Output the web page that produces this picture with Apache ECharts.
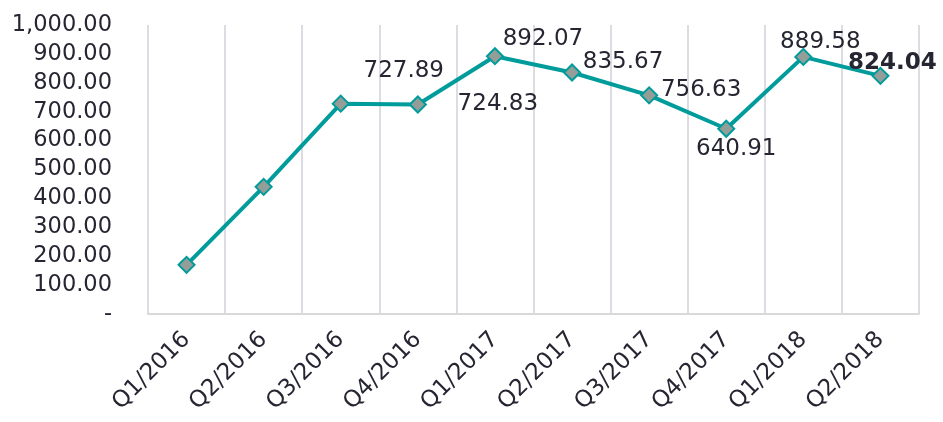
<!DOCTYPE html>
<html>
<head>
<meta charset="utf-8">
<script src="https://cdn.jsdelivr.net/npm/echarts@6/dist/echarts.min.js"></script>
<style>
  html, body { margin: 0; padding: 0; background: #fff; }
  #chart { width: 943px; height: 422px; }
</style>
</head>
<body>
<div id="chart"></div>
<script>
// categories and values
var quarters = ['Q1/2016', 'Q2/2016', 'Q3/2016', 'Q4/2016', 'Q1/2017', 'Q2/2017', 'Q3/2017', 'Q4/2017', 'Q1/2018', 'Q2/2018']
var values = [170, 440, 727.89, 724.83, 892.07, 835.67, 756.63, 640.91, 889.58, 824.04]
// which points carry a value label (first two have none)
var showLabel = [false, false, true, true, true, true, true, true, true, true]

// label offsets around each point, in px
var labelOffsets = [[0, 0], [0, 0], [63, -33], [80, 0], [48, -17], [51, -10], [52, -5], [10, 20], [17, -15], [12, -13]]

var font = 'DejaVu Sans'
var textColor = '#262633'

function fmt(v) {
  if (v === 0) return '-'
  return v.toLocaleString('en-US', { minimumFractionDigits: 2, maximumFractionDigits: 2 })
}

var myChart = echarts.init(document.getElementById('chart'))

var seriesData = values.map(function (v, i) {
  return {
    value: v,
    label: {
      show: showLabel[i],
      position: 'inside',
      offset: labelOffsets[i],
      fontWeight: i === values.length - 1 ? 'bold' : 'normal'
    }
  }
})

var option = {
  animation: false,
  grid: {
    left: 148,
    right: 24,
    top: 25,
    bottom: 108
  },
  xAxis: {
    type: 'category',
    data: quarters,
    boundaryGap: true,
    axisLine: { lineStyle: { color: '#d9d9d9', width: 2 } },
    axisTick: { show: false },
    splitLine: { show: true, lineStyle: { color: '#dcdce2', width: 2 } },
    axisLabel: {
      interval: 0,
      rotate: 45,
      margin: 22,
      fontFamily: font,
      fontSize: 23,
      color: textColor
    }
  },
  yAxis: {
    type: 'value',
    min: 0,
    max: 1000,
    interval: 100,
    axisLine: { show: false },
    axisTick: { show: false },
    splitLine: { show: false },
    axisLabel: {
      margin: 36,
      fontFamily: font,
      fontSize: 22.5,
      color: textColor,
      formatter: fmt
    }
  },
  series: [
    {
      type: 'line',
      data: seriesData,
      symbol: 'diamond',
      symbolSize: 16,
      lineStyle: { color: '#009b9b', width: 4 },
      itemStyle: { color: '#939e98', borderColor: '#009b9b', borderWidth: 2 },
      label: {
        fontFamily: font,
        fontSize: 23,
        color: textColor,
        align: 'center',
        verticalAlign: 'middle',
        formatter: function (p) { return fmt(p.value) }
      }
    }
  ]
}

myChart.setOption(option)
window.addEventListener('resize', function () {
  myChart.resize()
})
</script>
</body>
</html>
